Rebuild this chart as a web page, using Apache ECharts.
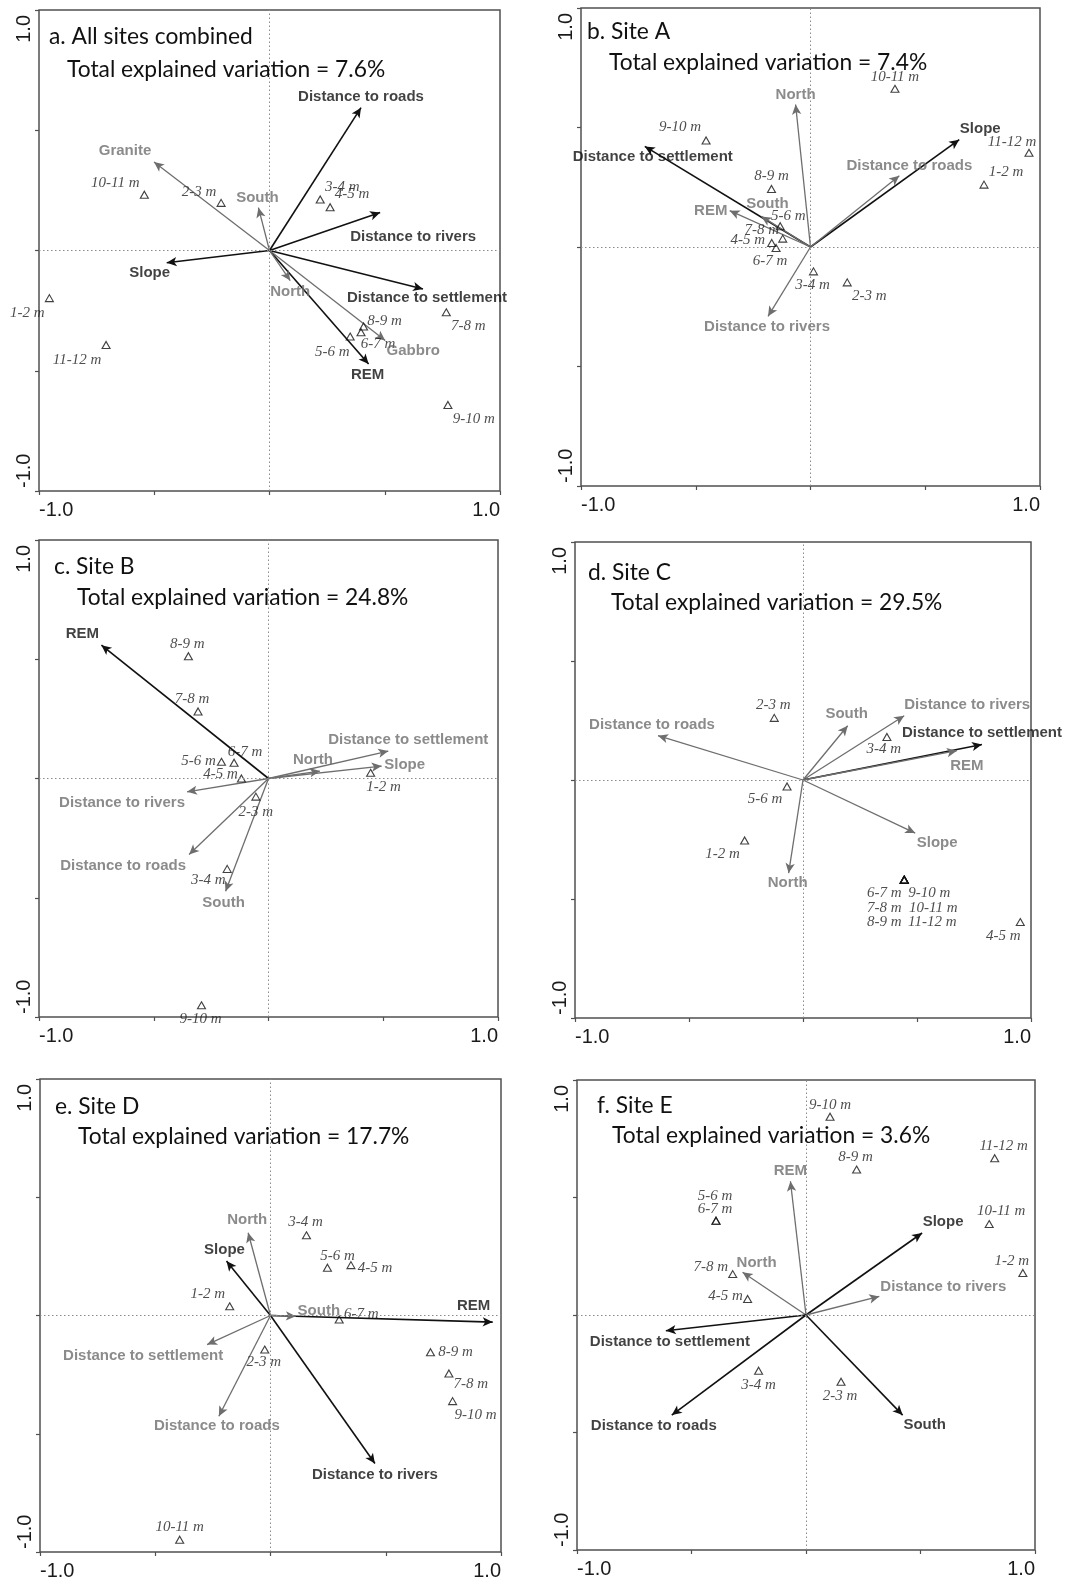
<!DOCTYPE html>
<html><head><meta charset="utf-8">
<script src="https://cdn.jsdelivr.net/npm/echarts@6/dist/echarts.min.js"></script>
<style>html,body{margin:0;padding:0;background:#fff}#c{width:1088px;height:1585px}</style>
</head><body><div id="c"></div>
<script>
// ---------------- data ----------------
const panelTitles = ['a. All sites combined','b. Site A','c. Site B','d. Site C','e. Site D','f. Site E'];
const explainedVariation = ['7.6%','7.4%','24.8%','29.5%','17.7%','3.6%'];
const axisTickLabels = ['-1.0','1.0'];

// a. All sites combined
const aVarNames = ['Distance to roads','Distance to rivers','Distance to settlement','REM','Gabbro','North','South','Granite','Slope'];
const aVarX = [0.397,0.480,0.666,0.430,0.502,0.090,-0.048,-0.501,-0.446];
const aVarY = [0.594,0.158,-0.160,-0.472,-0.374,-0.125,0.178,0.368,-0.051];
const aVarSig = [1,1,1,1,0,0,0,0,1];
const aSiteNames = ['10-11 m','2-3 m','3-4 m','4-5 m','1-2 m','11-12 m','8-9 m','6-7 m','5-6 m','7-8 m','9-10 m'];
const aSiteX = [-0.543,-0.210,0.220,0.263,-0.955,-0.709,0.408,0.397,0.350,0.767,0.774];
const aSiteY = [0.232,0.198,0.212,0.180,-0.198,-0.393,-0.316,-0.340,-0.358,-0.257,-0.642];

// b. Site A
const bVarNames = ['Slope','Distance to roads','North','Distance to settlement','REM','South','Distance to rivers'];
const bVarX = [0.648,0.387,-0.065,-0.722,-0.352,-0.214,-0.185];
const bVarY = [0.449,0.298,0.596,0.421,0.152,0.128,-0.290];
const bVarSig = [1,0,0,1,0,0,0];
const bSiteNames = ['10-11 m','9-10 m','11-12 m','1-2 m','8-9 m','5-6 m','7-8 m','4-5 m','6-7 m','3-4 m','2-3 m'];
const bSiteX = [0.368,-0.455,0.952,0.756,-0.170,-0.132,-0.121,-0.169,-0.150,0.013,0.160];
const bSiteY = [0.662,0.446,0.394,0.261,0.243,0.087,0.035,0.017,-0.004,-0.102,-0.148];

// c. Site B
const cVarNames = ['REM','Distance to settlement','Slope','North','Distance to rivers','Distance to roads','South'];
const cVarX = [-0.728,0.522,0.493,0.224,-0.355,-0.346,-0.187];
const cVarY = [0.559,0.115,0.052,0.031,-0.056,-0.319,-0.473];
const cVarSig = [1,0,0,0,0,0,0];
const cSiteNames = ['8-9 m','7-8 m','6-7 m','5-6 m','4-5 m','1-2 m','2-3 m','3-4 m','9-10 m'];
const cSiteX = [-0.349,-0.307,-0.150,-0.205,-0.118,0.445,-0.055,-0.180,-0.292];
const cSiteY = [0.513,0.281,0.066,0.070,0.000,0.024,-0.076,-0.379,-0.951];

// d. Site C
const dVarNames = ['Distance to roads','South','Distance to rivers','Distance to settlement','REM','Slope','North'];
const dVarX = [-0.636,0.196,0.444,0.785,0.675,0.492,-0.063];
const dVarY = [0.186,0.228,0.270,0.149,0.123,-0.223,-0.391];
const dVarSig = [0,0,0,1,0,0,0];
const dSiteNames = ['2-3 m','3-4 m','5-6 m','1-2 m','6-7 m','7-8 m','8-9 m','9-10 m','10-11 m','11-12 m','4-5 m'];
const dSiteX = [-0.126,0.368,-0.070,-0.256,0.444,0.444,0.444,0.444,0.444,0.444,0.953];
const dSiteY = [0.261,0.181,-0.027,-0.254,-0.419,-0.419,-0.419,-0.419,-0.419,-0.419,-0.597];

// e. Site D
const eVarNames = ['REM','Distance to rivers','Slope','North','South','Distance to settlement','Distance to roads'];
const eVarX = [0.964,0.453,-0.191,-0.097,0.110,-0.275,-0.224];
const eVarY = [-0.028,-0.626,0.230,0.350,-0.003,-0.123,-0.426];
const eVarSig = [1,1,1,0,0,0,0];
const eSiteNames = ['3-4 m','5-6 m','4-5 m','1-2 m','6-7 m','2-3 m','8-9 m','7-8 m','9-10 m','10-11 m'];
const eSiteX = [0.156,0.247,0.349,-0.177,0.298,-0.025,0.694,0.774,0.790,-0.394];
const eSiteY = [0.339,0.202,0.213,0.039,-0.017,-0.144,-0.155,-0.245,-0.362,-0.948];

// f. Site E
const fVarNames = ['Slope','Distance to rivers','REM','North','Distance to settlement','Distance to roads','South'];
const fVarX = [0.507,0.320,-0.068,-0.277,-0.612,-0.586,0.422];
const fVarY = [0.349,0.079,0.569,0.182,-0.067,-0.426,-0.426];
const fVarSig = [1,0,0,0,1,1,1];
const fSiteNames = ['9-10 m','11-12 m','8-9 m','5-6 m','6-7 m','10-11 m','1-2 m','7-8 m','4-5 m','3-4 m','2-3 m'];
const fSiteX = [0.105,0.824,0.221,-0.393,-0.393,0.800,0.947,-0.320,-0.255,-0.207,0.153];
const fSiteY = [0.844,0.667,0.619,0.401,0.401,0.387,0.179,0.174,0.068,-0.237,-0.284];

// ---------------- layout (pixel) ----------------
const panelBoxes = [[39,10,461,481],[581,8,459,478],[39,540,459,477],[575,542,456,476],[40,1079,461,473],[577,1080,458,470]];
const titlePos = [[49,25,67,58],[587,20,609,51],[54,555,77,586],[588,561,611,591],[55,1095,78,1125],[597,1094,612,1124]];
const aVarLabelOffset = [[0,-11],[33,24],[4,9],[-1,11],[28,10],[0,11],[-1,-10],[-29,-11],[-17,10]];
const aSiteLabelOffset = [[-29,-12],[-22,-11],[22,-12],[22,-13],[-22,15],[-29,15],[21,-5],[17,12],[-18,15],[22,14],[26,14]];
const bVarLabelOffset = [[21,-11],[10,-10],[0,-10],[8,10],[-19,0],[6,-13],[-1,11]];
const bSiteLabelOffset = [[0,-12],[-26,-13],[-17,-11],[22,-13],[0,-13],[8,-10],[-21,-9],[-24,-3],[-6,13],[-1,14],[22,14]];
const cVarLabelOffset = [[-19,-11],[20,-11],[23,-1],[-7,-11],[-65,11],[-66,11],[-2,12]];
const cSiteLabelOffset = [[-1,-12],[-6,-12],[11,-11],[-23,-1],[-21,-4],[13,14],[0,15],[-19,11],[-1,14]];
const dVarLabelOffset = [[-6,-11],[-1,-12],[63,-11],[0,-12],[10,15],[22,10],[-1,10]];
const dSiteLabelOffset = [[-1,-13],[-3,12],[-22,13],[-22,14],[-20,13],[-20,28],[-20,42],[25,13],[29,28],[28,42],[-17,14]];
const eVarLabelOffset = [[-19,-16],[0,11],[-2,-11],[-1,-13],[23,-5],[-64,11],[-2,10]];
const eSiteLabelOffset = [[-1,-13],[10,-12],[24,3],[-22,-12],[22,-5],[-1,13],[25,0],[22,11],[23,14],[0,-13]];
const fVarLabelOffset = [[21,-11],[64,-10],[0,-10],[14,-9],[4,11],[-18,11],[22,10]];
const fSiteLabelOffset = [[0,-12],[9,-12],[-1,-12],[-1,-25],[-1,-12],[12,-13],[-11,-12],[-22,-7],[-22,-3],[0,14],[-1,14]];

const BLACK = '#111111', GRAY = '#6e6e6e', FRAME = '#505050';

const panels = [
  {vn:aVarNames,vx:aVarX,vy:aVarY,vs:aVarSig,vo:aVarLabelOffset,sn:aSiteNames,sx:aSiteX,sy:aSiteY,so:aSiteLabelOffset},
  {vn:bVarNames,vx:bVarX,vy:bVarY,vs:bVarSig,vo:bVarLabelOffset,sn:bSiteNames,sx:bSiteX,sy:bSiteY,so:bSiteLabelOffset},
  {vn:cVarNames,vx:cVarX,vy:cVarY,vs:cVarSig,vo:cVarLabelOffset,sn:cSiteNames,sx:cSiteX,sy:cSiteY,so:cSiteLabelOffset},
  {vn:dVarNames,vx:dVarX,vy:dVarY,vs:dVarSig,vo:dVarLabelOffset,sn:dSiteNames,sx:dSiteX,sy:dSiteY,so:dSiteLabelOffset},
  {vn:eVarNames,vx:eVarX,vy:eVarY,vs:eVarSig,vo:eVarLabelOffset,sn:eSiteNames,sx:eSiteX,sy:eSiteY,so:eSiteLabelOffset},
  {vn:fVarNames,vx:fVarX,vy:fVarY,vs:fVarSig,vo:fVarLabelOffset,sn:fSiteNames,sx:fSiteX,sy:fSiteY,so:fSiteLabelOffset}
];

const tickFmt = v => (v === -1 ? axisTickLabels[0] : (v === 1 ? axisTickLabels[1] : ''));
const tickFont = {fontFamily:"'Liberation Sans', Arial, sans-serif", fontSize:20, color:'#1a1a1a'};

const option = {animation:false, backgroundColor:'#ffffff', title:[], grid:[], xAxis:[], yAxis:[], series:[]};

panels.forEach((p, i) => {
  const b = panelBoxes[i], t = titlePos[i];
  const ts = {fontFamily:"Lato, 'Open Sans', sans-serif", fontSize:22.8, fontWeight:'normal', color:'#111'};
  option.title.push({text:panelTitles[i], left:t[0], top:t[1], padding:0, textStyle:ts});
  option.title.push({text:'Total explained variation = ' + explainedVariation[i], left:t[2], top:t[3], padding:0, textStyle:ts});
  option.grid.push({left:b[0], top:b[1], width:b[2], height:b[3], show:true, borderColor:FRAME, borderWidth:1.5, backgroundColor:'transparent'});
  option.xAxis.push({type:'value', gridIndex:i, min:-1, max:1, interval:0.5, position:'bottom',
    axisLine:{show:false, onZero:false}, splitLine:{show:false},
    axisTick:{show:true, length:4, lineStyle:{color:FRAME, width:1.2}},
    axisLabel:Object.assign({formatter:tickFmt, margin:9, alignMinLabel:'left', alignMaxLabel:'right', showMinLabel:true, showMaxLabel:true}, tickFont)});
  option.yAxis.push({type:'value', gridIndex:i, min:-1, max:1, interval:0.5, position:'left',
    axisLine:{show:false, onZero:false}, splitLine:{show:false},
    axisTick:{show:true, length:4, lineStyle:{color:FRAME, width:1.2}},
    axisLabel:Object.assign({formatter:tickFmt, rotate:90, margin:5, alignMinLabel:'left', alignMaxLabel:'right', padding:[0,5,0,3], showMinLabel:true, showMaxLabel:true}, tickFont)});

  // zero reference lines
  option.series.push({type:'scatter', xAxisIndex:i, yAxisIndex:i, data:[], z:1, silent:true,
    markLine:{silent:true, symbol:['none','none'], animation:false, label:{show:false},
      lineStyle:{color:'#8a8a8a', width:1, type:[1.5,2.5]},
      data:[{xAxis:0},{yAxis:0}]}});

  // environmental arrows
  option.series.push({type:'lines', coordinateSystem:'cartesian2d', xAxisIndex:i, yAxisIndex:i, z:3, silent:true,
    symbol:['none','arrow'], symbolSize:[0,[7,10]],
    data:p.vn.map((n, j) => ({coords:[[0,0],[p.vx[j], p.vy[j]]],
      lineStyle:{color:p.vs[j] ? BLACK : GRAY, width:p.vs[j] ? 1.6 : 1.3, opacity:1}}))});

  // arrow labels
  option.series.push({type:'scatter', xAxisIndex:i, yAxisIndex:i, z:5, silent:true, symbolSize:1,
    itemStyle:{color:'rgba(0,0,0,0)'},
    label:{show:true, position:'inside', formatter:'{b}', fontFamily:"'Liberation Sans', Arial, sans-serif", fontWeight:'bold', fontSize:15, align:'center', verticalAlign:'middle'},
    data:p.vn.map((n, j) => ({name:n, value:[p.vx[j], p.vy[j]], label:{offset:p.vo[j], color:p.vs[j] ? BLACK : GRAY}}))});

  // sample sites (distance classes)
  option.series.push({type:'scatter', xAxisIndex:i, yAxisIndex:i, z:4, silent:true,
    symbol:'triangle', symbolSize:[8,7],
    itemStyle:{color:'rgba(255,255,255,0)', borderColor:'#111', borderWidth:1.1},
    label:{show:true, position:'inside', formatter:'{b}', fontFamily:"'Liberation Serif', 'Times New Roman', serif", fontStyle:'italic', fontSize:15, color:'#222', align:'center', verticalAlign:'middle'},
    data:p.sn.map((n, j) => ({name:n, value:[p.sx[j], p.sy[j]], label:{offset:p.so[j]}}))});
});

const chart = echarts.init(document.getElementById('c'), null, {renderer:'canvas'});
chart.setOption(option);
</script>
</body></html>
